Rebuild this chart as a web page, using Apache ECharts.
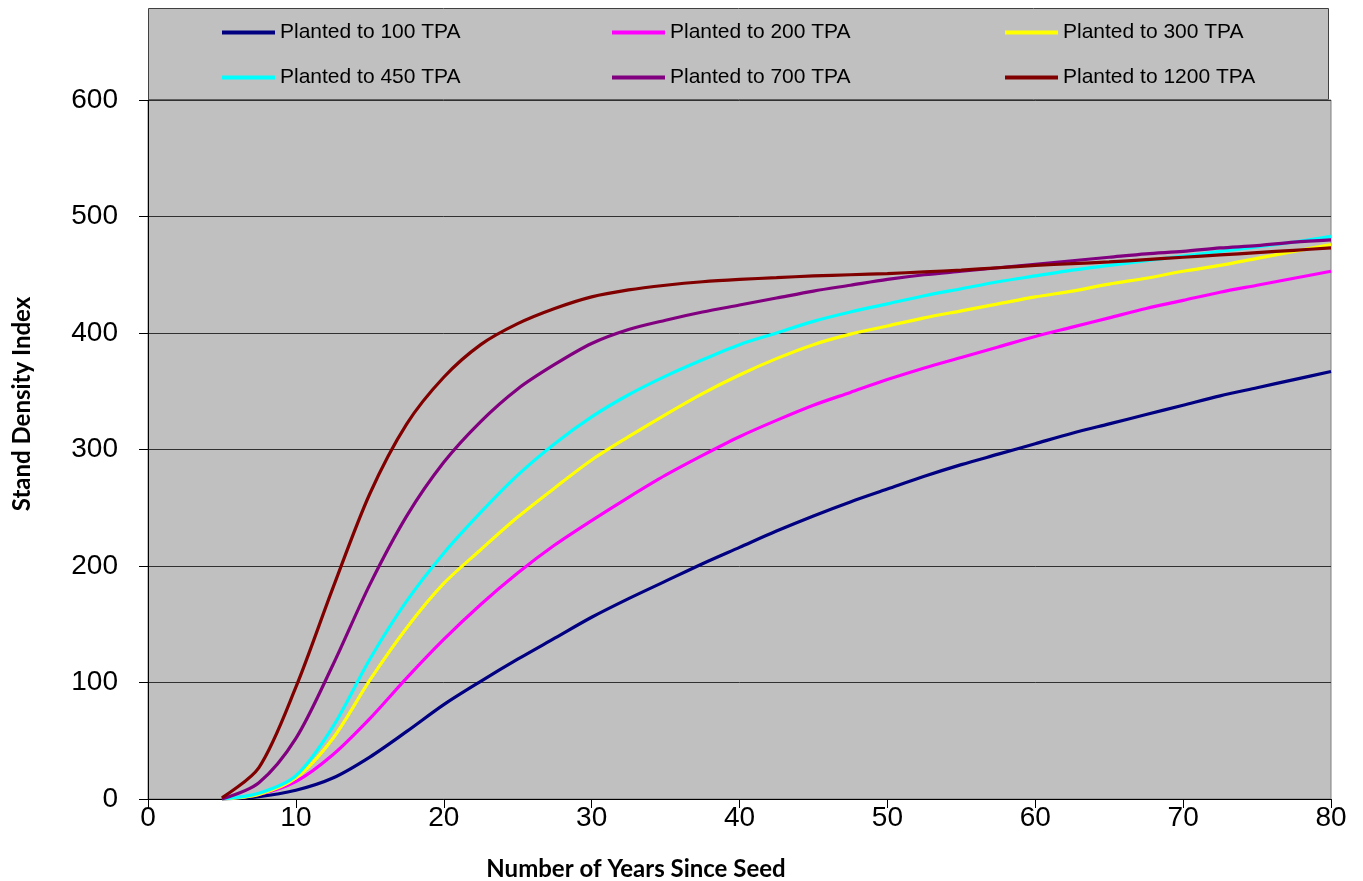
<!DOCTYPE html>
<html>
<head>
<meta charset="utf-8">
<script src="https://cdn.jsdelivr.net/npm/echarts@6/dist/echarts.min.js"></script>
<style>
html,body{margin:0;padding:0;background:#fff;}
#chart{width:1363px;height:881px;}
</style>
</head>
<body>
<div id="chart"></div>
<script>
const years = [5,7.5,10,12.5,15,17.5,20,22.5,25,27.5,30,32.5,35,37.5,40,42.5,45,47.5,50,52.5,55,57.5,60,62.5,65,67.5,70,72.5,75,77.5,80];
const tpa100  = [0,2,7.5,18,36,58,81,101,120,138,156,172,187,202,216,230,243,255,266,277,287,296,305,314,322,330,338,346,353,360,367];
const tpa200  = [0,4,15,38,69,104,137,167,194,218,239,259,278,295,311,325,338,349,360,370,379,388,397,405,413,421,428,435,441,447,453];
const tpa300  = [0,4,18,52,102,147,185,214,242,267,291,311,330,348,364,378,390,399,406,413,419,425,431,436,442,447,453,458,464,470,476];
const tpa450  = [0,5,20,62,120,170,211,246,278,305,328,347,363,377,390,400,410,418,425,432,438,444,449,454,458,462,466,470,474,478,483];
const tpa700  = [0,14,52,115,184,243,289,324,352,373,391,403,411,418,424,430,436,441,446,450,453,456,459,462,465,468,470,473,475,478,480];
const tpa1200 = [1,27,96,181,262,322,362,390,408,421,431,437,441,444,446,447.5,449,450,451,452.5,454,456,458,459.5,461,463,465,467,469,471,473];
const seriesNames = ['Planted to 100 TPA','Planted to 200 TPA','Planted to 300 TPA','Planted to 450 TPA','Planted to 700 TPA','Planted to 1200 TPA'];
const seriesColors = ['#000080','#FF00FF','#FFFF00','#00FFFF','#800080','#800000'];
const seriesValues = [tpa100,tpa200,tpa300,tpa450,tpa700,tpa1200];
const xTicks = [0,10,20,30,40,50,60,70,80];
const yTicks = [0,100,200,300,400,500,600];

const chart = echarts.init(document.getElementById('chart'), null, {renderer:'canvas'});

const series = seriesNames.map((n,i)=>({
  name:n, type:'line', smooth:0.3, symbol:'none',
  data: years.map((y,j)=>[y, seriesValues[i][j]]),
  lineStyle:{color:seriesColors[i], width:3.2},
  itemStyle:{color:seriesColors[i]},
  z: 2+i
}));

const legendPos = [[222,22],[612,22],[1005,22],[222,67],[612,67],[1005,67]];
const legends = seriesNames.map((n,i)=>({
  data:[n], left:legendPos[i][0], top:legendPos[i][1], padding:0,
  icon:'rect', itemWidth:53, itemHeight:4, itemGap:0,
  textStyle:{fontFamily:'Liberation Sans, Arial, sans-serif', fontSize:21, color:'#000'},
  selectedMode:false
}));

chart.setOption({
  animation:false,
  backgroundColor:'#ffffff',
  legend: legends,
  graphic:[
    {type:'rect', z:-10, shape:{x:148.5,y:8.5,width:1180,height:91}, style:{fill:'#C0C0C0', stroke:'#404040', lineWidth:1}},
    {type:'text', x:22, y:404, rotation:Math.PI/2, style:{text:'Stand Density Index', fontFamily:'Lato, Open Sans, sans-serif', fontWeight:'bold', fontSize:24, fill:'#000', align:'center', verticalAlign:'middle'}},
    {type:'text', x:636, y:869, style:{text:'Number of Years Since Seed', fontFamily:'Lato, Open Sans, sans-serif', fontWeight:'bold', fontSize:24, fill:'#000', align:'center', verticalAlign:'middle'}}
  ],
  grid:{left:148, right:32, top:100, bottom:82, show:true, backgroundColor:'#C0C0C0', borderColor:'#808080', borderWidth:1},
  xAxis:{
    type:'value', min:xTicks[0], max:xTicks[xTicks.length-1], interval:10,
    axisLine:{show:true, onZero:false, lineStyle:{color:'#000', width:1}},
    axisTick:{show:true, inside:false, length:9, lineStyle:{color:'#000'}},
    axisLabel:{fontFamily:'Liberation Sans, Arial, sans-serif', fontSize:28, color:'#000', margin:5},
    splitLine:{show:false}
  },
  yAxis:{
    type:'value', min:yTicks[0], max:yTicks[yTicks.length-1], interval:100,
    axisLine:{show:true, lineStyle:{color:'#000', width:1}},
    axisTick:{show:true, inside:false, length:9, lineStyle:{color:'#000'}},
    axisLabel:{fontFamily:'Liberation Sans, Arial, sans-serif', fontSize:28, color:'#000', margin:30},
    splitLine:{show:true, lineStyle:{color:'#303030', width:1}}
  },
  series: series
});
</script>
</body>
</html>
